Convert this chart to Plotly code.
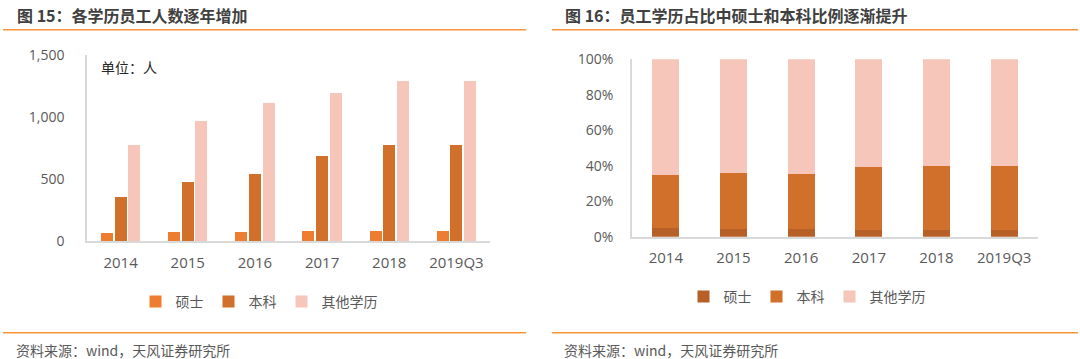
import numpy as np
import plotly.graph_objects as go

categories = ["2014", "2015", "2016", "2017", "2018", "2019Q3"]
master = [62, 70, 73, 78, 81, 81]          # 硕士
bachelor = [357, 478, 538, 685, 774, 774]  # 本科
other = [777, 968, 1110, 1191, 1293, 1293] # 其他学历
series_names = ["硕士", "本科", "其他学历"]
y_ticks_left = [0, 500, 1000, 1500]
y_ticks_right = [0, 20, 40, 60, 80, 100]

W, H = 1080, 359
FONT = "Open Sans, Noto Sans CJK SC, sans-serif"
CJK = "Noto Sans CJK SC, sans-serif"
GRAY = "#595959"
AXIS = "#D9D9D9"
ORANGE = "#F7943A"

left_colors = ["#ED7D31", "#D0702B", "#F5C6B9"]
right_colors = ["#B65F26", "#D0702B", "#F5C6B9"]

def px(x):
    return x / W

def py(y):
    return 1 - y / H

fig = go.Figure()

vals = [master, bachelor, other]
for i, (name, v) in enumerate(zip(series_names, vals)):
    fig.add_trace(go.Bar(
        x=categories, y=v, name=name, xaxis="x", yaxis="y",
        offsetgroup="g%d" % i, marker=dict(color=left_colors[i], line=dict(width=0)),
        legend="legend",
    ))

arr = np.array(vals, dtype=float)
shares = arr / arr.sum(axis=0) * 100
for i, name in enumerate(series_names):
    fig.add_trace(go.Bar(
        x=categories, y=shares[i], name=name, xaxis="x2", yaxis="y2",
        width=0.4, marker=dict(color=right_colors[i], line=dict(width=0)),
        legend="legend2",
    ))

legend_common = dict(orientation="h", xanchor="center", yanchor="middle",
                     font=dict(family=CJK, size=14, color=GRAY),
                     itemwidth=30, tracegroupgap=0, traceorder="normal",
                     bgcolor="rgba(0,0,0,0)")

fig.update_layout(
    width=W, height=H,
    margin=dict(l=0, r=0, t=0, b=0, autoexpand=False),
    paper_bgcolor="white", plot_bgcolor="white",
    barmode="stack", bargap=0.39, bargroupgap=0.12,
    font=dict(family=FONT, size=14, color=GRAY),
    xaxis=dict(domain=[px(87), px(490)], anchor="y", showgrid=False,
               showline=True, linecolor=AXIS, linewidth=1.5, ticks="",
               tickfont=dict(size=15, color=GRAY), ticklabelstandoff=7),
    yaxis=dict(domain=[py(241), py(55)], anchor="x", range=[0, 1500],
               tickvals=y_ticks_left, tickformat=",d", showgrid=False,
               showline=True, linecolor=AXIS, linewidth=1.5, ticks="",
               zeroline=False, tickfont=dict(size=14, color=GRAY),
               ticklabelstandoff=18),
    xaxis2=dict(domain=[px(632), px(1038)], anchor="y2", showgrid=False,
                showline=True, linecolor=AXIS, linewidth=1.5, ticks="",
                tickfont=dict(size=15, color=GRAY), ticklabelstandoff=7),
    yaxis2=dict(domain=[py(236.7), py(59.3)], anchor="x2", range=[0, 100],
                tickvals=y_ticks_right,
                ticktext=["%d%%" % t for t in y_ticks_right],
                showgrid=False,
                showline=True, linecolor=AXIS, linewidth=1.5, ticks="",
                zeroline=False, tickfont=dict(size=14, color=GRAY),
                ticklabelstandoff=14),
    legend=dict(legend_common, x=px(259), y=py(302)),
    legend2=dict(legend_common, x=px(807), y=py(297)),
    showlegend=True,
)

shapes = []
for (x0, x1) in [(3, 526), (552, 1078)]:
    for yline in [29.7, 332.7]:
        shapes.append(dict(type="line", xref="paper", yref="paper",
                           x0=px(x0), x1=px(x1), y0=py(yline), y1=py(yline),
                           line=dict(color=ORANGE, width=1.5)))
fig.update_layout(shapes=shapes)

annotations = [
    dict(text="<b>图 15：各学历员工人数逐年增加</b>", x=px(15), y=py(14.5),
         xanchor="left", yanchor="middle", font=dict(family=CJK, size=16, color="#404040")),
    dict(text="<b>图 16：员工学历占比中硕士和本科比例逐渐提升</b>", x=px(563), y=py(14.5),
         xanchor="left", yanchor="middle", font=dict(family=CJK, size=16, color="#404040")),
    dict(text="单位：人", x=px(99), y=py(67), xanchor="left", yanchor="middle",
         font=dict(family=CJK, size=14, color="#262626")),
    dict(text="资料来源：wind，天风证券研究所", x=px(14), y=py(350),
         xanchor="left", yanchor="middle", font=dict(family=CJK, size=14, color=GRAY)),
    dict(text="资料来源：wind，天风证券研究所", x=px(562), y=py(350),
         xanchor="left", yanchor="middle", font=dict(family=CJK, size=14, color=GRAY)),
]
for a in annotations:
    a.update(xref="paper", yref="paper", showarrow=False)
fig.update_layout(annotations=annotations)

fig.write_html("out.html", config={"displayModeBar": False},
               post_script="document.body.style.margin='0';document.body.style.overflow='hidden';")
